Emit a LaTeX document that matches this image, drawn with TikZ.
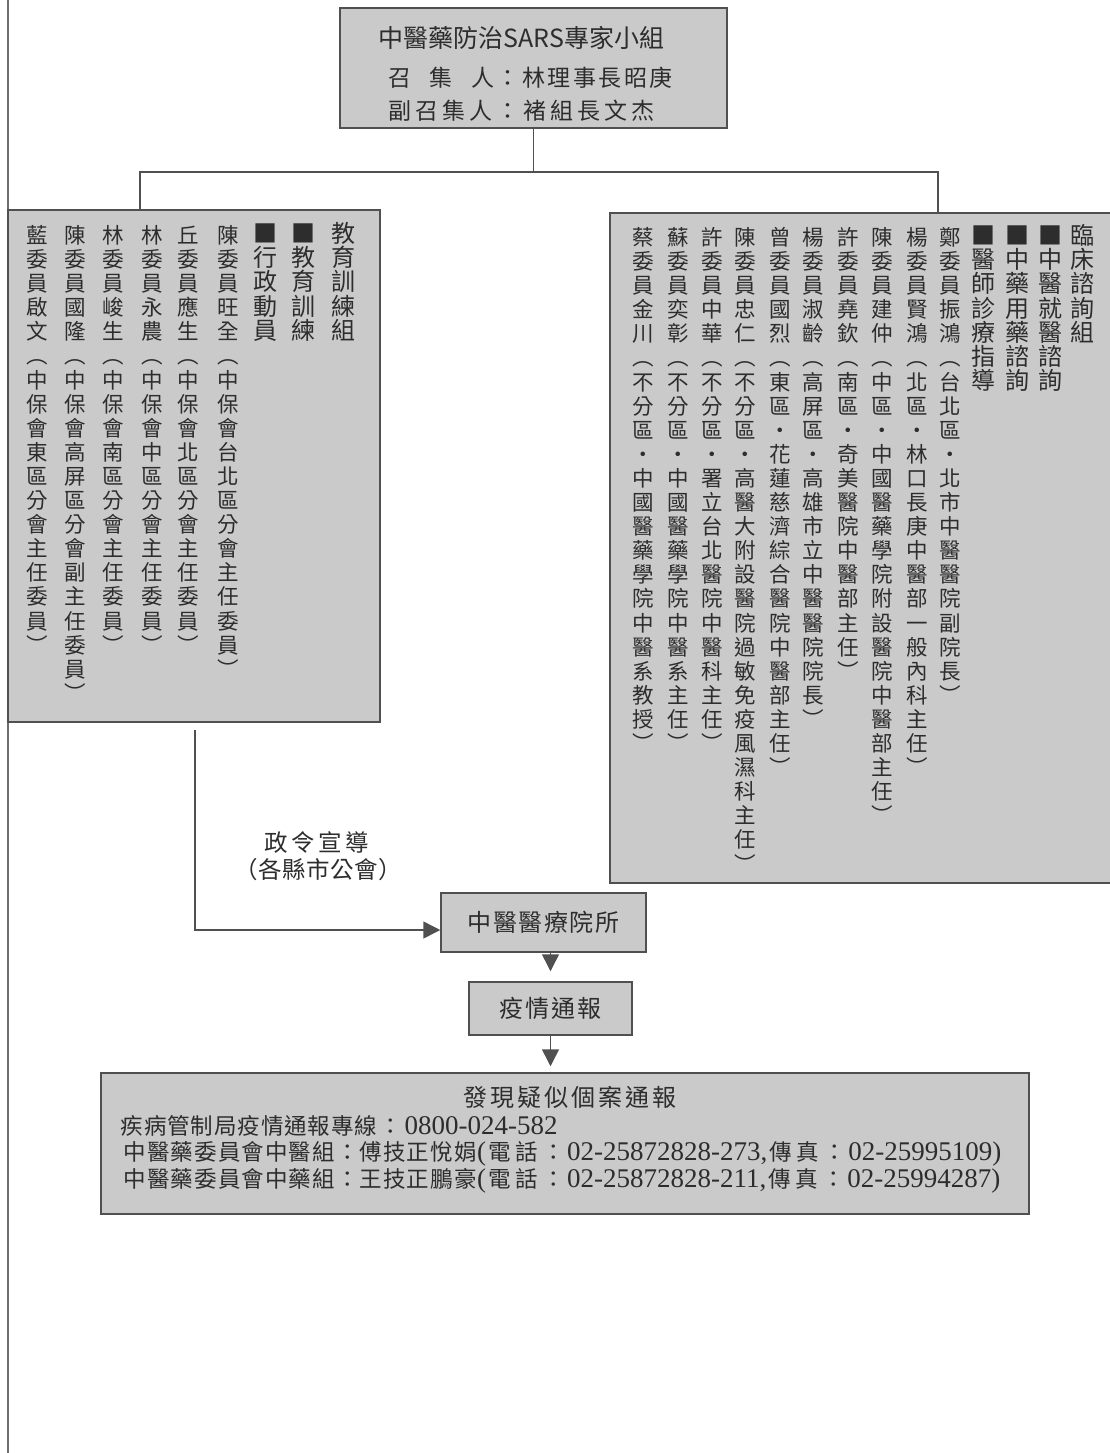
\documentclass[tikz,border=0pt]{standalone}
\usepackage{fontspec}
\setmainfont{Noto Sans CJK TC}
\newfontfamily\latinserif{Liberation Serif}
\usetikzlibrary{arrows.meta}
\definecolor{boxfill}{RGB}{202,202,202}
\definecolor{boxline}{RGB}{80,80,80}
\definecolor{ink}{RGB}{45,45,45}
\definecolor{sq}{RGB}{45,45,45}
\definecolor{pagecol}{RGB}{110,110,110}
\makeatletter
\newcommand\vcol[2]{\vbox{\offinterlineskip\@tfor\vc@ch:=#2\do{\vbox to #1{\vss\hbox to 1.1em{\hss\vphantom{中}\smash{\vc@ch}\hss}\vss}}}}
\newcommand\hsp[2]{\@tfor\hs@ch:=#2\do{\makebox[#1]{\hs@ch}}}
\makeatother
\newcommand\sqr{{\color{sq}■}}
\newcommand\hdr[1]{\fontsize{24}{24}\selectfont\vcol{24.2pt}{#1}}
\newcommand\nm[1]{\fontsize{21.5}{24}\selectfont\vcol{24.1pt}{#1}}
\newcommand\dig[1]{{\latinserif\fontsize{27}{24}\selectfont #1}}
\begin{document}
\begin{tikzpicture}[x=1pt,y=-1pt,
  box/.style={draw=boxline, fill=boxfill, line width=1.5pt, inner sep=0pt, text=ink},
  txt/.style={inner sep=0pt, text=ink},
  vc/.style={anchor=north, inner sep=0pt, text=ink},
  conn/.style={draw=boxline, line width=1.5pt},
  arr/.style={conn, -{Triangle[length=17pt,width=17pt]}}]
\useasboundingbox (0,0) rectangle (1110,1453);
\fill[white] (0,0) rectangle (1110,1453);
\draw[draw=pagecol, line width=2.5pt] (8,0) -- (8,1453);

% top box
\node[box, minimum width=387pt, minimum height=120pt] (top) at (533.5,68) {};
\node[txt, font=\fontsize{25}{24}\selectfont] (t1) at (521.5,38) {中醫藥防治SARS專家小組};
\node[txt, anchor=west, font=\fontsize{23}{24}\selectfont] (t2) at (379,78) {\hsp{41.5pt}{召集人}\hspace{-8pt}\hsp{25.5pt}{：林理事長昭庚}};
\node[txt, anchor=west, font=\fontsize{23}{24}\selectfont] (t3) at (386.5,111) {\hsp{27pt}{副召集人：褚組長文杰}};

% left box
\node[box, minimum width=372pt, minimum height=512pt] (lbox) at (194,466) {};
\node[vc] (lh1) at (343,221) {\hdr{教育訓練組}};
\node[vc] (lh2) at (303,221) {\hdr{\sqr 教育訓練}};
\node[vc] (lh3) at (265,221) {\hdr{\sqr 行政動員}};
\node[vc] (ln1) at (228,223) {\nm{陳委員旺全︵中保會台北區分會主任委員︶}};
\node[vc] (ln2) at (188,223) {\nm{丘委員應生︵中保會北區分會主任委員︶}};
\node[vc] (ln3) at (152,223) {\nm{林委員永農︵中保會中區分會主任委員︶}};
\node[vc] (ln4) at (113,223) {\nm{林委員峻生︵中保會南區分會主任委員︶}};
\node[vc] (ln5) at (75,223) {\nm{陳委員國隆︵中保會高屏區分會副主任委員︶}};
\node[vc] (ln6) at (37,223) {\nm{藍委員啟文︵中保會東區分會主任委員︶}};

% right box
\node[box, minimum width=505pt, minimum height=670pt] (rbox) at (862.5,548) {};
\node[vc] (rh1) at (1082,223) {\hdr{臨床諮詢組}};
\node[vc] (rh2) at (1050,223) {\hdr{\sqr 中醫就醫諮詢}};
\node[vc] (rh3) at (1017,223) {\hdr{\sqr 中藥用藥諮詢}};
\node[vc] (rh4) at (983,223) {\hdr{\sqr 醫師診療指導}};
\node[vc] (rn1) at (950,225) {\nm{鄭委員振鴻︵台北區•北市中醫醫院副院長︶}};
\node[vc] (rn2) at (917,225) {\nm{楊委員賢鴻︵北區•林口長庚中醫部一般內科主任︶}};
\node[vc] (rn3) at (882,225) {\nm{陳委員建仲︵中區•中國醫藥學院附設醫院中醫部主任︶}};
\node[vc] (rn4) at (848,225) {\nm{許委員堯欽︵南區•奇美醫院中醫部主任︶}};
\node[vc] (rn5) at (813,225) {\nm{楊委員淑齡︵高屏區•高雄市立中醫醫院院長︶}};
\node[vc] (rn6) at (780,225) {\nm{曾委員國烈︵東區•花蓮慈濟綜合醫院中醫部主任︶}};
\node[vc] (rn7) at (745,225) {\nm{陳委員忠仁︵不分區•高醫大附設醫院過敏免疫風濕科主任︶}};
\node[vc] (rn8) at (712,225) {\nm{許委員中華︵不分區•署立台北醫院中醫科主任︶}};
\node[vc] (rn9) at (678,225) {\nm{蘇委員奕彰︵不分區•中國醫藥學院中醫系主任︶}};
\node[vc] (rn10) at (643,225) {\nm{蔡委員金川︵不分區•中國醫藥學院中醫系教授︶}};

% flow boxes
\node[box, minimum width=205pt, minimum height=59pt, font=\fontsize{24}{24}\selectfont] (hosp) at (543.5,922.5) {\hsp{25.5pt}{中醫醫療院所}};
\node[box, minimum width=163pt, minimum height=53pt, font=\fontsize{24}{24}\selectfont] (epi) at (550.5,1008.5) {\hsp{26pt}{疫情通報}};
\node[box, minimum width=928pt, minimum height=141pt] (bot) at (565,1143.5) {};
\node[txt, font=\fontsize{24}{24}\selectfont] (b0) at (570,1097) {\hsp{27pt}{發現疑似個案通報}};
\node[txt, anchor=west, font=\fontsize{22.5}{24}\selectfont] (b1) at (120,1126) {\hsp{23.4pt}{疾病管制局疫情通報專線}\hsp{27pt}{：}\dig{0800-024-582}};
\node[txt, anchor=west, font=\fontsize{22.5}{24}\selectfont] (b2) at (123,1154) {\hsp{23.6pt}{中醫藥委員會中醫組：傅技正悅娟}\dig{(}\hsp{27pt}{電話：}\dig{02-25872828-273,}\hsp{27pt}{傳真：}\dig{02-25995109)}};
\node[txt, anchor=west, font=\fontsize{22.5}{24}\selectfont] (b3) at (123,1181) {\hsp{23.6pt}{中醫藥委員會中藥組：王技正鵬豪}\dig{(}\hsp{27pt}{電話：}\dig{02-25872828-211,}\hsp{27pt}{傳真：}\dig{02-25994287)}};

% label
\node[txt, font=\fontsize{23.5}{24}\selectfont] (lab1) at (317,843) {\hsp{27pt}{政令宣導}};
\node[txt, font=\fontsize{23.5}{24}\selectfont] (lab2) at (318,870) {\hsp{24pt}{（各縣市公會）}};

% connectors
\coordinate (bus) at (533.5,172);
\coordinate (lj) at (140,210);
\coordinate (rj) at (938,213);
\coordinate (lout) at (195,730);
\draw[conn] (top.south) -- (bus);
\draw[conn] (lj) |- (bus) -| (rj);
\draw[arr] (lout) |- ([yshift=-7.5pt]hosp.west);
\draw[arr, shorten >=10pt] (hosp.south -| epi.north) -- (epi.north);
\draw[arr, shorten >=6pt] (epi.south) -- (epi.south |- bot.north);
\end{tikzpicture}
\end{document}
